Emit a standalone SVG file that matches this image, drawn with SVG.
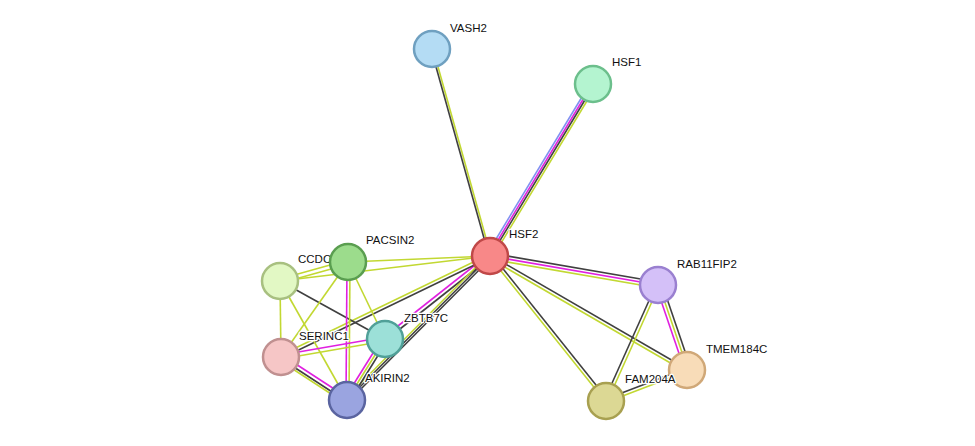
<svg xmlns="http://www.w3.org/2000/svg" width="975" height="446" viewBox="0 0 975 446">
<style>
.y{stroke:#c2d832;stroke-width:1.6;fill:none}
.d{stroke:#404040;stroke-width:1.6;fill:none}
.m{stroke:#e020e0;stroke-width:1.6;fill:none}
.b{stroke:#8090f0;stroke-width:1.6;fill:none}
.n circle{stroke-width:2.5}
text{font-family:"Liberation Sans",Arial,sans-serif;font-size:11.5px;fill:#111;stroke:#fff;stroke-width:2.5;paint-order:stroke;stroke-linejoin:round}
</style>
<rect width="975" height="446" fill="#fff"/>
<g id="edges">
<line class="y" x1="433" y1="49" x2="491" y2="256"/><line class="d" x1="431" y1="49" x2="489" y2="256"/>
<line class="b" x1="591" y1="82" x2="487" y2="254"/><line class="m" x1="593" y1="83" x2="489" y2="255"/><line class="d" x1="594" y1="85" x2="490" y2="257"/><line class="y" x1="596" y1="86" x2="492" y2="258"/>
<line class="d" x1="490" y1="253" x2="658" y2="282"/><line class="m" x1="490" y1="256" x2="658" y2="285"/><line class="y" x1="490" y1="259" x2="658" y2="288"/>
<line class="d" x1="490" y1="255" x2="687" y2="369"/><line class="y" x1="489" y1="258" x2="686" y2="372"/>
<line class="y" x1="489" y1="256" x2="605" y2="401"/><line class="d" x1="492" y1="255" x2="608" y2="400"/>
<line class="m" x1="656" y1="286" x2="685" y2="371"/><line class="y" x1="659" y1="285" x2="688" y2="370"/><line class="d" x1="662" y1="284" x2="691" y2="369"/>
<line class="d" x1="656" y1="285" x2="604" y2="401"/><line class="y" x1="659" y1="286" x2="607" y2="402"/>
<line class="d" x1="606" y1="399" x2="687" y2="368"/><line class="y" x1="607" y1="402" x2="688" y2="371"/>
<line class="y" x1="348" y1="262" x2="490" y2="256"/>
<line class="y" x1="280" y1="281" x2="490" y2="256"/>
<line class="m" x1="384" y1="337" x2="489" y2="254"/><line class="d" x1="386" y1="340" x2="491" y2="257"/>
<line class="y" x1="345" y1="399" x2="488" y2="255"/><line class="d" x1="347" y1="400" x2="490" y2="256"/><line class="d" x1="349" y1="401" x2="492" y2="257"/>
<line class="y" x1="281" y1="355" x2="490" y2="254"/><line class="d" x1="282" y1="358" x2="491" y2="257"/>
<line class="y" x1="280" y1="279" x2="348" y2="260"/><line class="y" x1="281" y1="283" x2="349" y2="264"/>
<line class="d" x1="280" y1="281" x2="385" y2="339"/>
<line class="y" x1="280" y1="281" x2="281" y2="357"/>
<line class="y" x1="280" y1="281" x2="347" y2="400"/>
<line class="y" x1="348" y1="262" x2="281" y2="357"/>
<line class="m" x1="347" y1="262" x2="346" y2="400"/><line class="y" x1="350" y1="262" x2="349" y2="400"/>
<line class="y" x1="348" y1="262" x2="385" y2="339"/>
<line class="m" x1="281" y1="355" x2="385" y2="337"/><line class="y" x1="281" y1="359" x2="385" y2="341"/>
<line class="m" x1="282" y1="355" x2="348" y2="398"/><line class="d" x1="280" y1="358" x2="346" y2="401"/><line class="y" x1="279" y1="360" x2="345" y2="403"/>
<line class="m" x1="383" y1="337" x2="345" y2="398"/><line class="y" x1="385" y1="339" x2="347" y2="400"/><line class="d" x1="387" y1="341" x2="349" y2="402"/>
</g>
<g id="VASH2" class="n"><circle cx="432" cy="49" r="18" fill="#b4dcf4" stroke="#6fa0c0"/><text x="450" y="32">VASH2</text></g>
<g id="HSF1" class="n"><circle cx="593" cy="84" r="18" fill="#b4f4d0" stroke="#6cbf8c"/><text x="612" y="66">HSF1</text></g>
<g id="RAB11FIP2" class="n"><circle cx="658" cy="285" r="18" fill="#d4c0f8" stroke="#9a80d0"/><text x="677" y="268">RAB11FIP2</text></g>
<g id="TMEM184C" class="n"><circle cx="687" cy="370" r="18" fill="#f8dcb8" stroke="#d0a878"/><text x="706" y="353">TMEM184C</text></g>
<g id="FAM204A" class="n"><circle cx="606" cy="401" r="18" fill="#dcd894" stroke="#a8a050"/><text x="625" y="383">FAM204A</text></g>
<g id="CCDC" class="n"><circle cx="280" cy="281" r="18" fill="#e2f8c4" stroke="#a8c080"/><text x="298" y="263">CCDC</text></g>
<g id="PACSIN2" class="n"><circle cx="348" cy="262" r="18" fill="#9cdc8c" stroke="#5a9e50"/><text x="366" y="244">PACSIN2</text></g>
<g id="SERINC1" class="n"><circle cx="281" cy="357" r="18" fill="#f6c6c6" stroke="#c09090"/><text x="299" y="340">SERINC1</text></g>
<g id="ZBTB7C" class="n"><circle cx="385" cy="339" r="18" fill="#9ce0d8" stroke="#50a098"/><text x="404" y="322">ZBTB7C</text></g>
<g id="AKIRIN2" class="n"><circle cx="347" cy="400" r="18" fill="#9aa4e0" stroke="#5a64a0"/><text x="365" y="382">AKIRIN2</text></g>
<g id="HSF2" class="n"><circle cx="490" cy="256" r="18" fill="#f88888" stroke="#c04848"/><text x="509" y="238">HSF2</text></g>
</svg>
